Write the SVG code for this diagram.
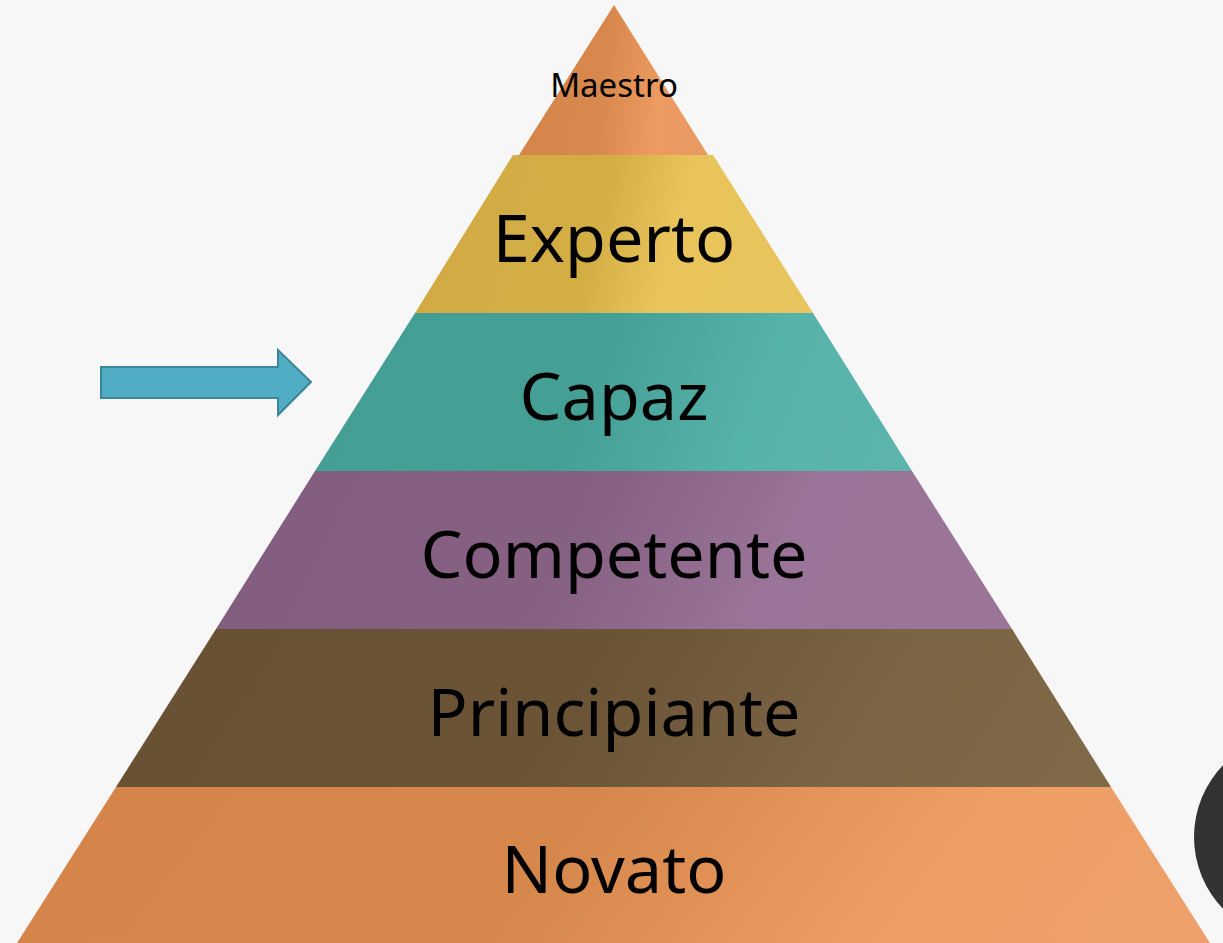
<svg xmlns="http://www.w3.org/2000/svg" width="1223" height="943" viewBox="0 0 1223 943">
<defs>
<style>
.lbl{font-family:"Noto Sans","Open Sans","Liberation Sans",sans-serif;fill:#000;text-anchor:middle}
.big{font-size:66.5px}
.small{font-size:33px}
</style>
<linearGradient id="gM" x1="0" y1="0.45" x2="1" y2="0.55"><stop offset="0" stop-color="#d5854a"/><stop offset="0.45" stop-color="#d8884d"/><stop offset="0.75" stop-color="#ec9b61"/><stop offset="1" stop-color="#e89a63"/></linearGradient>
<linearGradient id="gE" x1="0" y1="0.45" x2="1" y2="0.55"><stop offset="0" stop-color="#d2aa45"/><stop offset="0.45" stop-color="#d3ae44"/><stop offset="0.65" stop-color="#e8c45a"/><stop offset="1" stop-color="#e8c45e"/></linearGradient>
<linearGradient id="gC" x1="0" y1="0.45" x2="1" y2="0.55"><stop offset="0" stop-color="#449e93"/><stop offset="0.45" stop-color="#449f95"/><stop offset="0.75" stop-color="#56b3aa"/><stop offset="1" stop-color="#5cb4ab"/></linearGradient>
<linearGradient id="gP" x1="0" y1="0.45" x2="1" y2="0.55"><stop offset="0" stop-color="#825d7f"/><stop offset="0.45" stop-color="#866182"/><stop offset="0.72" stop-color="#9b7599"/><stop offset="1" stop-color="#9a7598"/></linearGradient>
<linearGradient id="gB" x1="0" y1="0.45" x2="1" y2="0.55"><stop offset="0" stop-color="#695233"/><stop offset="0.45" stop-color="#6b5435"/><stop offset="0.75" stop-color="#7b6445"/><stop offset="1" stop-color="#806948"/></linearGradient>
<linearGradient id="gN" x1="0" y1="0.45" x2="1" y2="0.55"><stop offset="0" stop-color="#d5844a"/><stop offset="0.45" stop-color="#d6874b"/><stop offset="0.78" stop-color="#ef9f65"/><stop offset="1" stop-color="#eda06a"/></linearGradient>
</defs>
<rect width="1223" height="943" fill="#f7f7f7"/>
<circle cx="1297" cy="837" r="103" fill="#333333"/>
<g id="maestro"><polygon points="614,5 708,155 519,155" fill="url(#gM)"/><text class="lbl small" x="614" y="97">Maestro</text></g>
<g id="experto"><polygon points="513,155 713,155 813,313 415,313" fill="url(#gE)"/><text class="lbl big" x="614" y="262">Experto</text></g>
<g id="capaz"><polygon points="415,313 813,313 912,471 315,471" fill="url(#gC)"/><text class="lbl big" x="614" y="420">Capaz</text></g>
<g id="competente"><polygon points="315,471 912,471 1012,629 216,629" fill="url(#gP)"/><text class="lbl big" x="614" y="578">Competente</text></g>
<g id="principiante"><polygon points="216,629 1012,629 1111,787 116,787" fill="url(#gB)"/><text class="lbl big" x="614" y="736">Principiante</text></g>
<g id="novato"><polygon points="116,787 1111,787 1210,943 17,943" fill="url(#gN)"/><text class="lbl big" x="614" y="893">Novato</text></g>
<g id="arrow"><polygon points="101,367 278,367 278,350 311,382 278,415 278,398 101,398" fill="#50adc4" stroke="#3b8597" stroke-width="2"/></g>
</svg>
